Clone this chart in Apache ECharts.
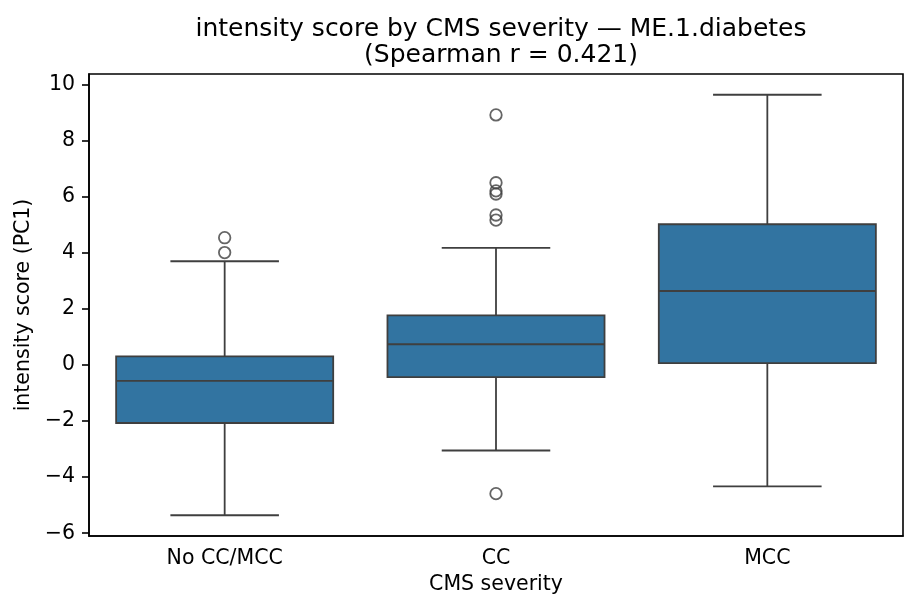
<!DOCTYPE html>
<html>
<head>
<meta charset="utf-8">
<script src="https://cdn.jsdelivr.net/npm/echarts@6/dist/echarts.min.js"></script>
<style>html,body{margin:0;padding:0;background:#fff}#c{width:917px;height:614px}</style>
</head>
<body>
<div id="c"></div>
<script>
const categories = ['No CC/MCC', 'CC', 'MCC'];
// [lower whisker, Q1, median, Q3, upper whisker]
const boxNoCC = [-5.36, -2.07, -0.57, 0.31, 3.70];
const boxCC   = [-3.05, -0.43, 0.74, 1.77, 4.18];
const boxMCC  = [-4.33, 0.07, 2.64, 5.02, 9.64];
const outliersNoCC = [4.01, 4.54];
const outliersCC = [8.92, 6.50, 6.21, 6.10, 5.35, 5.17, -4.59];
const outliersMCC = [];
const yMin = -6.10, yMax = 10.38;

const boxes = [boxNoCC, boxCC, boxMCC];
const outliers = [outliersNoCC, outliersCC, outliersMCC];
const boxData = boxes.map((b, i) => [i].concat(b));
const outlierData = [];
outliers.forEach((arr, i) => arr.forEach(v => outlierData.push([i, v])));

const LINE = '#3f3f3f', FILL = '#3274a1', LW = 1.8;
const FONT = 'DejaVu Sans';

function renderBox(params, api) {
  const c = api.value(0);
  const lo = api.coord([c, api.value(1)]);
  const q1 = api.coord([c, api.value(2)]);
  const md = api.coord([c, api.value(3)]);
  const q3 = api.coord([c, api.value(4)]);
  const hi = api.coord([c, api.value(5)]);
  const band = api.size([1, 0])[0];
  const x = lo[0];
  const bw = band * 0.8, cw = band * 0.4;
  const st = { stroke: LINE, lineWidth: LW, fill: null };
  return {
    type: 'group',
    children: [
      { type: 'line', shape: { x1: x, y1: q3[1], x2: x, y2: hi[1] }, style: st },
      { type: 'line', shape: { x1: x, y1: q1[1], x2: x, y2: lo[1] }, style: st },
      { type: 'line', shape: { x1: x - cw / 2, y1: hi[1], x2: x + cw / 2, y2: hi[1] }, style: st },
      { type: 'line', shape: { x1: x - cw / 2, y1: lo[1], x2: x + cw / 2, y2: lo[1] }, style: st },
      { type: 'rect', shape: { x: x - bw / 2, y: q3[1], width: bw, height: q1[1] - q3[1] },
        style: { fill: FILL, stroke: LINE, lineWidth: LW } },
      { type: 'line', shape: { x1: x - bw / 2, y1: md[1], x2: x + bw / 2, y2: md[1] }, style: st }
    ]
  };
}

const chart = echarts.init(document.getElementById('c'), null, { renderer: 'canvas' });
chart.setOption({
  animation: false,
  backgroundColor: '#ffffff',
  title: {
    text: 'intensity score by CMS severity \u2014 ME.1.diabetes\n(Spearman r = 0.421)',
    left: 496, top: 11, textAlign: 'center',
    textStyle: { fontFamily: FONT, fontSize: 25, fontWeight: 'normal', color: '#000', lineHeight: 26 }
  },
  grid: { left: 89, right: 14, top: 74, bottom: 78, show: true, borderColor: '#000', borderWidth: 1.6, backgroundColor: 'transparent' },
  xAxis: {
    type: 'category', data: categories, boundaryGap: true,
    name: 'CMS severity', nameLocation: 'middle', nameGap: 32,
    nameTextStyle: { fontFamily: FONT, fontSize: 20.5, color: '#000' },
    axisLine: { onZero: false, lineStyle: { color: '#000', width: 1.6 } },
    axisTick: { alignWithLabel: true, length: 7, lineStyle: { color: '#000', width: 1.6 } },
    axisLabel: { fontFamily: FONT, fontSize: 20.5, color: '#000', margin: 12 },
    splitLine: { show: false }
  },
  yAxis: {
    type: 'value', min: yMin, max: yMax, splitNumber: 8,
    name: 'intensity score (PC1)', nameLocation: 'middle', nameGap: 54,
    nameTextStyle: { fontFamily: FONT, fontSize: 20.5, color: '#000' },
    axisLine: { show: true, lineStyle: { color: '#000', width: 1.6 } },
    axisTick: { show: true, length: 7, lineStyle: { color: '#000', width: 1.6 } },
    axisLabel: {
      fontFamily: FONT, fontSize: 20.5, color: '#000', margin: 14,
      showMinLabel: false, showMaxLabel: false,
      formatter: v => (Math.abs(v - Math.round(v)) < 1e-6 && Math.round(v) % 2 === 0) ? String(Math.round(v)).replace('-', '\u2212') : ''
    },
    splitLine: { show: false }
  },
  series: [
    { type: 'custom', renderItem: renderBox, data: boxData, encode: { x: 0, y: [1, 2, 3, 4, 5] }, z: 2 },
    {
      type: 'scatter', data: outlierData, symbol: 'circle', symbolSize: 11.5,
      itemStyle: { color: 'rgba(0,0,0,0)', borderColor: LINE, borderWidth: LW }, z: 3
    }
  ]
});
</script>
</body>
</html>
